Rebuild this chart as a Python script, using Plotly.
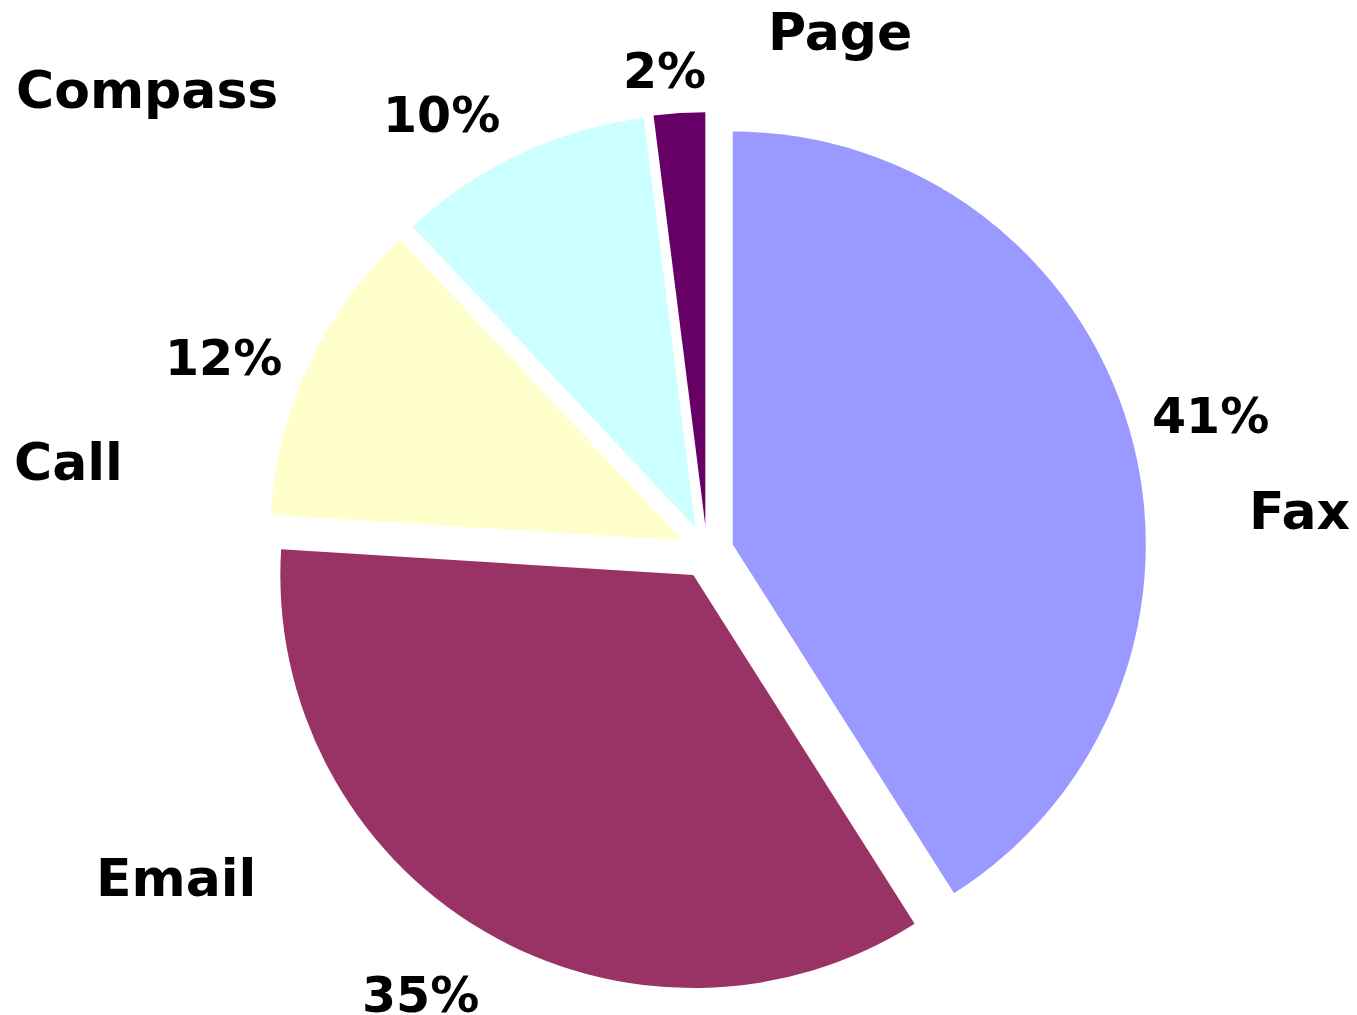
import math
import plotly.graph_objects as go

# ---- data ----
categories = ["Fax", "Email", "Call", "Compass", "Page"]
values = [41, 35, 12, 10, 2]
colors = ["#9999FF", "#993366", "#FFFFCC", "#CCFFFF", "#660066"]

# ---- style / layout ----
W, H = 1357, 1015
PULL = 0.065
DOM_X = [0.121, 0.921]
DOM_Y = [0.0228, 0.8895]
FONT = "DejaVu Sans"
PCT_SIZE = 49
CAT_SIZE = 52
# label placement: angular offset from slice middle (deg), distance from pie centre (radii)
pct_angle_off = [1.1, 2.3, -3.4, -6.1, -1.4]
pct_dist = [1.2625, 1.278, 1.260, 1.236, 1.167]
cat_angle_off = [12.2, 27.9, -17.2, -25.3, 18.0]
cat_dist = [1.438, 1.509, 1.561, 1.757, 1.299]

fig = go.Figure(go.Pie(
    labels=categories,
    values=values,
    marker=dict(colors=colors, line=dict(width=0)),
    pull=[PULL] * len(values),
    sort=False,
    direction="clockwise",
    rotation=0,
    textinfo="none",
    hoverinfo="label+percent",
    domain=dict(x=DOM_X, y=DOM_Y),
    showlegend=False,
))

# geometry as plotly computes it
w_dom = W * (DOM_X[1] - DOM_X[0])
h_dom = H * (DOM_Y[1] - DOM_Y[0])
r = min(w_dom, h_dom) / 2 / (1 + PULL)
cx = W * (DOM_X[0] + DOM_X[1]) / 2
cy = H * (1 - DOM_Y[0]) - h_dom / 2


def polar(angle_deg, dist):
    a = math.radians(angle_deg)
    return (cx + dist * r * math.sin(a)) / W, 1 - (cy - dist * r * math.cos(a)) / H


total = sum(values)
cum = 0
annotations = []
for i, (cat, v) in enumerate(zip(categories, values)):
    mid = (cum + v / 2) / total * 360
    cum += v
    pct = round(v / total * 100)
    x, y = polar(mid + pct_angle_off[i], pct_dist[i])
    annotations.append(dict(
        x=x, y=y, xref="paper", yref="paper",
        text=f"{pct}%", showarrow=False, xanchor="center", yanchor="middle",
        font=dict(family=FONT, size=PCT_SIZE, color="black", weight="bold"),
    ))
    x, y = polar(mid + cat_angle_off[i], cat_dist[i])
    annotations.append(dict(
        x=x, y=y, xref="paper", yref="paper",
        text=cat, showarrow=False, xanchor="center", yanchor="middle",
        font=dict(family=FONT, size=CAT_SIZE, color="black", weight="bold"),
    ))

fig.update_layout(
    width=W, height=H,
    margin=dict(l=0, r=0, t=0, b=0),
    paper_bgcolor="white",
    plot_bgcolor="white",
    annotations=annotations,
)

fig.write_html(
    "out.html",
    config={"displayModeBar": False},
    post_script="document.body.style.margin='0';document.body.style.overflow='hidden';",
)
